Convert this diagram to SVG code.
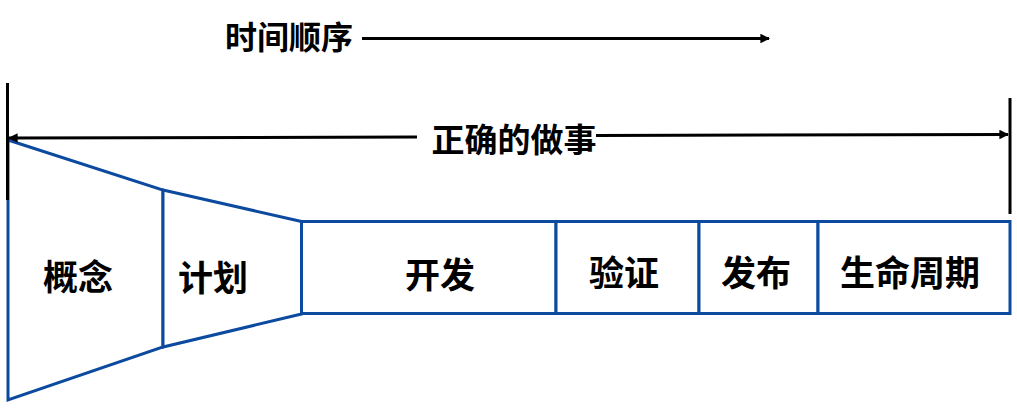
<svg xmlns="http://www.w3.org/2000/svg" width="1017" height="409" viewBox="0 0 1017 409">
<style>
text{font-family:"Noto Sans CJK SC","Noto Sans",sans-serif;font-weight:bold;fill:#000;text-anchor:middle;dominant-baseline:central}
.lbl{font-size:35px}
.blue{fill:#fff;stroke:#0B4A9E;stroke-width:3;stroke-linejoin:miter}
.blk{stroke:#000;stroke-width:3;fill:none}
</style>
<defs>
<marker id="ah" viewBox="0 0 10 10" refX="9" refY="5" markerWidth="3.2" markerHeight="3.2" orient="auto-start-reverse" markerUnits="strokeWidth">
<path d="M0,0 L10,5 L0,10 z" fill="#000"/>
</marker>
</defs>
<g id="nodes">
<g id="concept"><polygon class="blue" points="8,140 163,190 163,347 8,400"/><text class="lbl" x="78" y="274">概念</text></g>
<g id="plan"><polygon class="blue" points="163,190 301.5,221.5 301.5,314 163,347"/><text class="lbl" x="213" y="275">计划</text></g>
<g id="dev"><rect class="blue" x="301.5" y="221.5" width="254.5" height="92"/><text class="lbl" x="440" y="272">开发</text></g>
<g id="verify"><rect class="blue" x="556" y="221.5" width="143" height="92"/><text class="lbl" x="624" y="270">验证</text></g>
<g id="release"><rect class="blue" x="699" y="221.5" width="119" height="92"/><text class="lbl" x="756" y="270">发布</text></g>
<g id="lifecycle"><rect class="blue" x="818" y="221.5" width="192" height="92"/><text class="lbl" x="910" y="270">生命周期</text></g>
</g>
<g id="connectors">
<line class="blk" x1="7.5" y1="83" x2="7.5" y2="200"/>
<line class="blk" x1="1010" y1="98" x2="1010" y2="214"/>
<line class="blk" x1="362" y1="38.5" x2="769" y2="38.5" marker-end="url(#ah)"/>
<line class="blk" x1="417" y1="137" x2="9" y2="138" marker-end="url(#ah)"/>
<line class="blk" x1="596" y1="135.5" x2="1008" y2="134.5" marker-end="url(#ah)"/>
</g>
<g id="labels">
<text x="289" y="35" style="font-size:32px">时间顺序</text>
<text x="514" y="138" style="font-size:33px">正确的做事</text>
</g>
</svg>
